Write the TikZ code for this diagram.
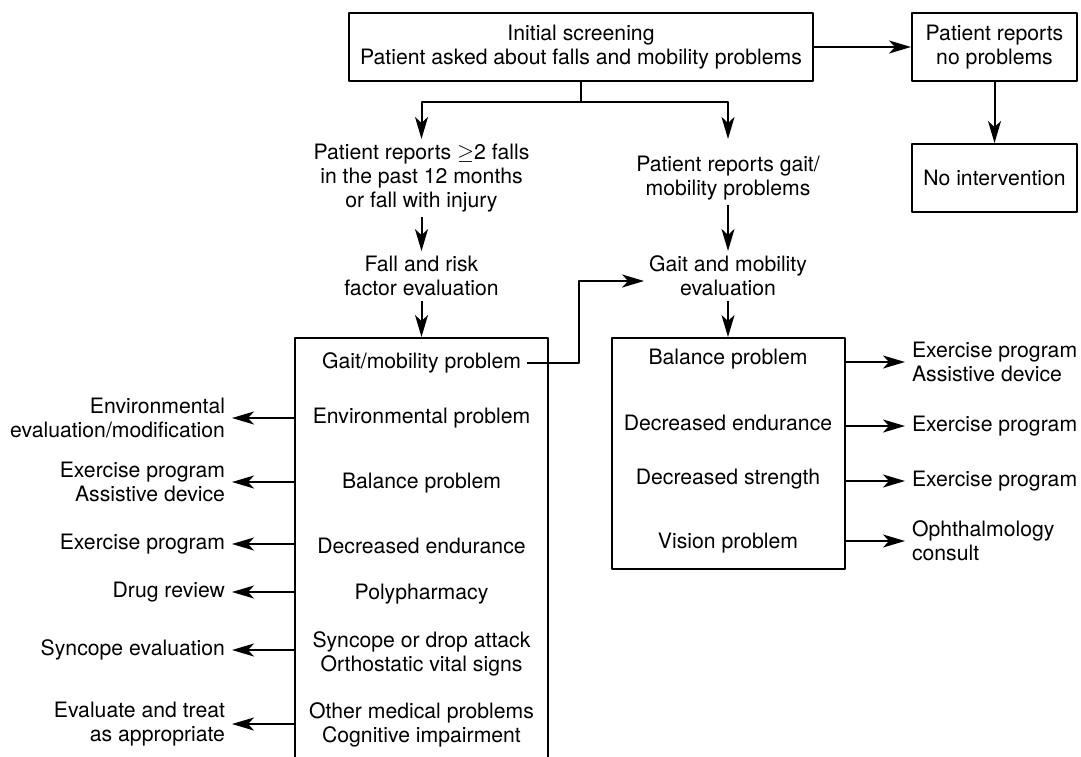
\documentclass[tikz,border=0pt]{standalone}
\usepackage{fontspec}
\setmainfont{TeX Gyre Heros}
\usetikzlibrary{arrows.meta}
\begin{document}
\begin{tikzpicture}[x=.5pt,y=-.5pt,>={Stealth[length=11pt,width=6.5pt,inset=3pt]},line width=1pt,line join=round,
		font=\fontsize{10.6}{12}\selectfont,
		box/.style={draw,line width=1pt,inner sep=0pt,align=center},
		txt/.style={align=center,inner sep=2pt},
		outl/.style={align=right,anchor=east,inner sep=3pt},
		outr/.style={align=left,anchor=west,inner sep=3pt}]
			\useasboundingbox (0,0) rectangle (1081,756);
			\clip (0,0) rectangle (1081,756);
			\node[box,minimum width=232pt,minimum height=34pt] (screen) at (581,47) {Initial screening\\Patient asked about falls and mobility problems};
			\node[box,minimum width=82.5pt,minimum height=34pt] (nopr) at (994.5,47) {Patient reports\\no problems};
			\node[box,minimum width=82.5pt,minimum height=34pt] (noint) at (994.5,178) {No intervention};
			\coordinate (split) at (581,102);
			\node[txt] (falls) at (421.5,178) {Patient reports $\geq$2 falls\\in the past 12 months\\or fall with injury};
			\node[txt] (frisk) at (421.5,276) {Fall and risk\\factor evaluation};
			\node[txt] (gaitrep) at (728,178) {Patient reports gait/\\mobility problems};
			\node[txt] (gaiteval) at (728,276) {Gait and mobility\\evaluation};
			\node[box,minimum width=126.5pt,minimum height=226pt] (bigL) at (421.5,564) {};
			\node[box,minimum width=116.5pt,minimum height=115.5pt] (bigR) at (728,453.5) {};
			\node[txt,inner sep=2.5pt] (gmp) at (421.5,363) {Gait/mobility problem};
			\node[txt] (envp) at (421.5,418) {Environmental problem};
			\node[txt] (balp) at (421.5,483) {Balance problem};
			\node[txt] (endp) at (421.5,546) {Decreased endurance};
			\node[txt] (polyp) at (421.5,594) {Polypharmacy};
			\node[txt] (synp) at (421.5,653.5) {Syncope or drop attack\\Orthostatic vital signs};
			\node[txt] (othp) at (421.5,725) {Other medical problems\\Cognitive impairment};
			\node[outl] (envout) at (232,418) {Environmental\\evaluation/modification};
			\node[outl] (exout) at (232,482) {Exercise program\\Assistive device};
			\node[outl] (endout) at (232,544) {Exercise program};
			\node[outl] (drugout) at (232,592) {Drug review};
			\node[outl] (synout) at (232,650) {Syncope evaluation};
			\node[outl] (evalout) at (232,724) {Evaluate and treat\\as appropriate};
			\node[txt] (rbal) at (728,359) {Balance problem};
			\node[txt] (rend) at (728,423) {Decreased endurance};
			\node[txt] (rstr) at (728,479) {Decreased strength};
			\node[txt] (rvis) at (728,543) {Vision problem};
			\node[outr] (rbalout) at (905,362) {Exercise program\\Assistive device};
			\node[outr] (rendout) at (905,426) {Exercise program};
			\node[outr] (rstrout) at (905,481) {Exercise program};
			\node[outr] (rvisout) at (905,541) {Ophthalmology\\consult};
			\coordinate (bend) at (579,281);
			\draw[->] (screen.east)--(nopr.west);
			\draw[->] (nopr.south)--(noint.north);
			\draw (screen.south)--(split);
			\draw[->] (split)-|(falls.north);
			\draw[->] (split)-|(gaitrep.north |- falls.north);
			\draw[->] (falls.south)--(frisk.north);
			\draw[->] (gaitrep.south)--(gaiteval.north);
			\draw[->] (frisk.south)--(bigL.north);
			\draw[->] (gaiteval.south)--(bigR.north);
			\draw[->] (gmp.east)-|(bend)--(bend -| gaiteval.west);
			\foreach \o in {envout,exout,endout,drugout,synout,evalout}
				\draw[->] (bigL.west |- \o.east)--(\o.east);
			\foreach \o in {rbalout,rendout,rstrout,rvisout}
				\draw[->] (bigR.east |- \o.west)--(\o.west);
	\end{tikzpicture}
\end{document}
